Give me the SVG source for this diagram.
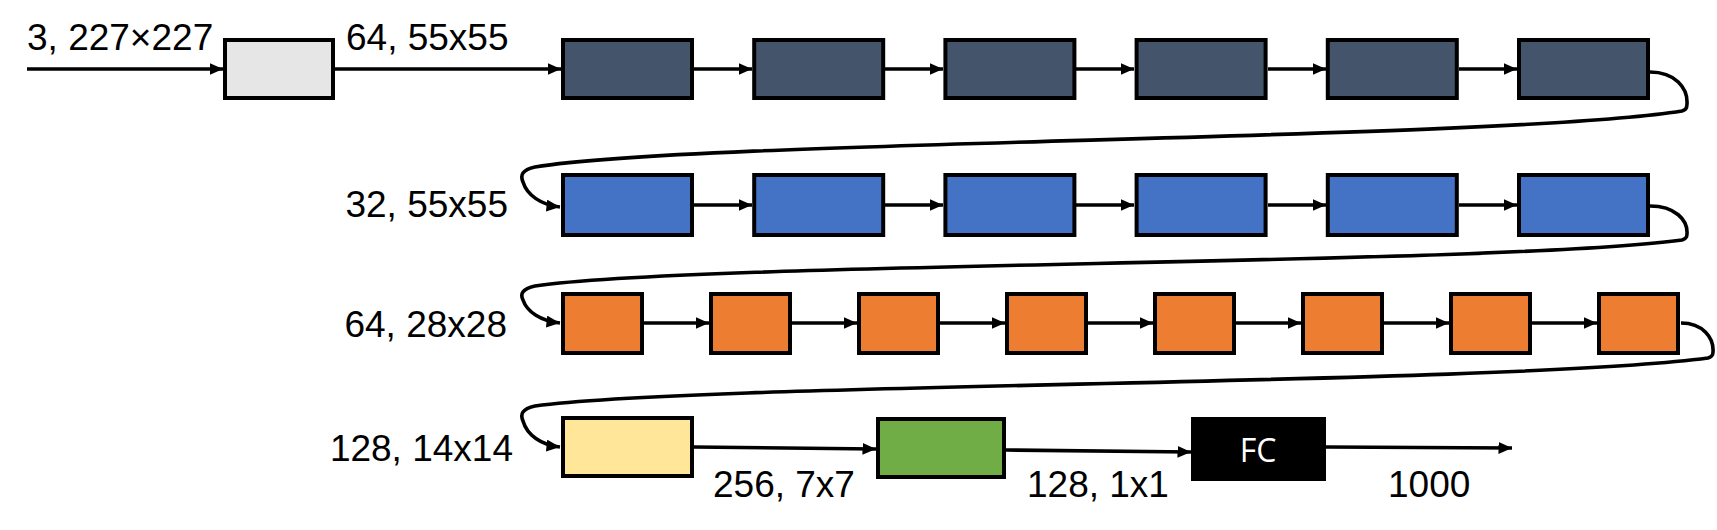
<svg xmlns="http://www.w3.org/2000/svg" width="1717" height="530" viewBox="0 0 1717 530">
<style>
.box{stroke:#000;stroke-width:4}
.gray{fill:#E7E6E6}
.dark{fill:#44546A}
.blue{fill:#4472C4}
.orange{fill:#ED7D31}
.yellow{fill:#FFE699}
.green{fill:#70AD47}
.lbl{font-family:"Liberation Sans",Arial,sans-serif;font-size:37px;fill:#000}
.conn path{fill:none;stroke:#000;stroke-width:3.6;marker-end:url(#ah)}
</style>
<defs>
<marker id="ah" markerUnits="userSpaceOnUse" markerWidth="14" markerHeight="12" refX="13.5" refY="6" orient="auto">
<path d="M0,0 L13.5,6 L0,12 z" fill="#000"/>
</marker>
</defs>
<rect width="1717" height="530" fill="#fff"/>
<g id="labels">
<text class="lbl" x="27" y="50">3, 227×227</text>
<text class="lbl" x="346" y="50">64, 55x55</text>
<text class="lbl" x="508" y="217" text-anchor="end">32, 55x55</text>
<text class="lbl" x="507" y="337" text-anchor="end">64, 28x28</text>
<text class="lbl" x="513" y="461" text-anchor="end">128, 14x14</text>
<text class="lbl" x="713" y="497">256, 7x7</text>
<text class="lbl" x="1027" y="497">128, 1x1</text>
<text class="lbl" x="1388" y="497">1000</text>
</g>
<g id="n_input"><rect class="box gray" x="225" y="40" width="108" height="58"/></g>
<g id="n_d1"><rect class="box dark" x="563" y="40" width="129" height="58"/></g>
<g id="n_d2"><rect class="box dark" x="754.2" y="40" width="129" height="58"/></g>
<g id="n_d3"><rect class="box dark" x="945.4" y="40" width="129" height="58"/></g>
<g id="n_d4"><rect class="box dark" x="1136.6" y="40" width="129" height="58"/></g>
<g id="n_d5"><rect class="box dark" x="1327.8" y="40" width="129" height="58"/></g>
<g id="n_d6"><rect class="box dark" x="1519" y="40" width="129" height="58"/></g>
<g id="n_b1"><rect class="box blue" x="563" y="175" width="129" height="60"/></g>
<g id="n_b2"><rect class="box blue" x="754.2" y="175" width="129" height="60"/></g>
<g id="n_b3"><rect class="box blue" x="945.4" y="175" width="129" height="60"/></g>
<g id="n_b4"><rect class="box blue" x="1136.6" y="175" width="129" height="60"/></g>
<g id="n_b5"><rect class="box blue" x="1327.8" y="175" width="129" height="60"/></g>
<g id="n_b6"><rect class="box blue" x="1519" y="175" width="129" height="60"/></g>
<g id="n_o1"><rect class="box orange" x="563" y="294" width="79" height="59"/></g>
<g id="n_o2"><rect class="box orange" x="711" y="294" width="79" height="59"/></g>
<g id="n_o3"><rect class="box orange" x="859" y="294" width="79" height="59"/></g>
<g id="n_o4"><rect class="box orange" x="1007" y="294" width="79" height="59"/></g>
<g id="n_o5"><rect class="box orange" x="1155" y="294" width="79" height="59"/></g>
<g id="n_o6"><rect class="box orange" x="1303" y="294" width="79" height="59"/></g>
<g id="n_o7"><rect class="box orange" x="1451" y="294" width="79" height="59"/></g>
<g id="n_o8"><rect class="box orange" x="1599" y="294" width="79" height="59"/></g>
<g id="n_yellow"><rect class="box yellow" x="563" y="418" width="129" height="58"/></g>
<g id="n_green"><rect class="box green" x="878" y="419" width="126" height="58"/></g>
<g id="n_fc"><rect x="1191" y="417" width="135" height="64" fill="#000"/>
<text x="1258" y="462" text-anchor="middle" font-family="'Open Sans','Liberation Sans',sans-serif" font-size="32" fill="#fff">FC</text></g>
<g id="connectors" class="conn">
<path d="M27,69 L223,69"/>
<path d="M335,69 L561,69"/>
<path d="M694,69 L752,69"/>
<path d="M885,69 L943,69"/>
<path d="M1076,69 L1134,69"/>
<path d="M1268,69 L1326,69"/>
<path d="M1459,69 L1517,69"/>
<path d="M1650,72 C1675,72 1688,88 1687,104 C1687,109 1685,110 1682,111 C1500,140 700,140 535,167 C522,170 520,175 523,182 C527,195 541,205 560,207"/>
<path d="M694,205 L752,205"/>
<path d="M885,205 L943,205"/>
<path d="M1076,205 L1134,205"/>
<path d="M1268,205 L1326,205"/>
<path d="M1459,205 L1517,205"/>
<path d="M1650,206 C1675,206 1688,220 1687,234 C1687,238 1685,239 1682,240 C1500,265 700,262 535,286 C522,289 520,294 523,300 C527,312 541,321 560,323"/>
<path d="M644,323 L709,323"/>
<path d="M792,323 L857,323"/>
<path d="M940,323 L1005,323"/>
<path d="M1088,323 L1153,323"/>
<path d="M1236,323 L1301,323"/>
<path d="M1384,323 L1449,323"/>
<path d="M1532,323 L1597,323"/>
<path d="M1681,323 C1703,323 1714,338 1713,352 C1713,356 1711,357 1708,358 C1500,385 700,383 535,406 C522,409 520,414 523,421 C527,435 541,445 560,447"/>
<path d="M694,447 L876,449"/>
<path d="M1006,450 L1191,452"/>
<path d="M1326,447 L1512,448"/>
</g>
</svg>
